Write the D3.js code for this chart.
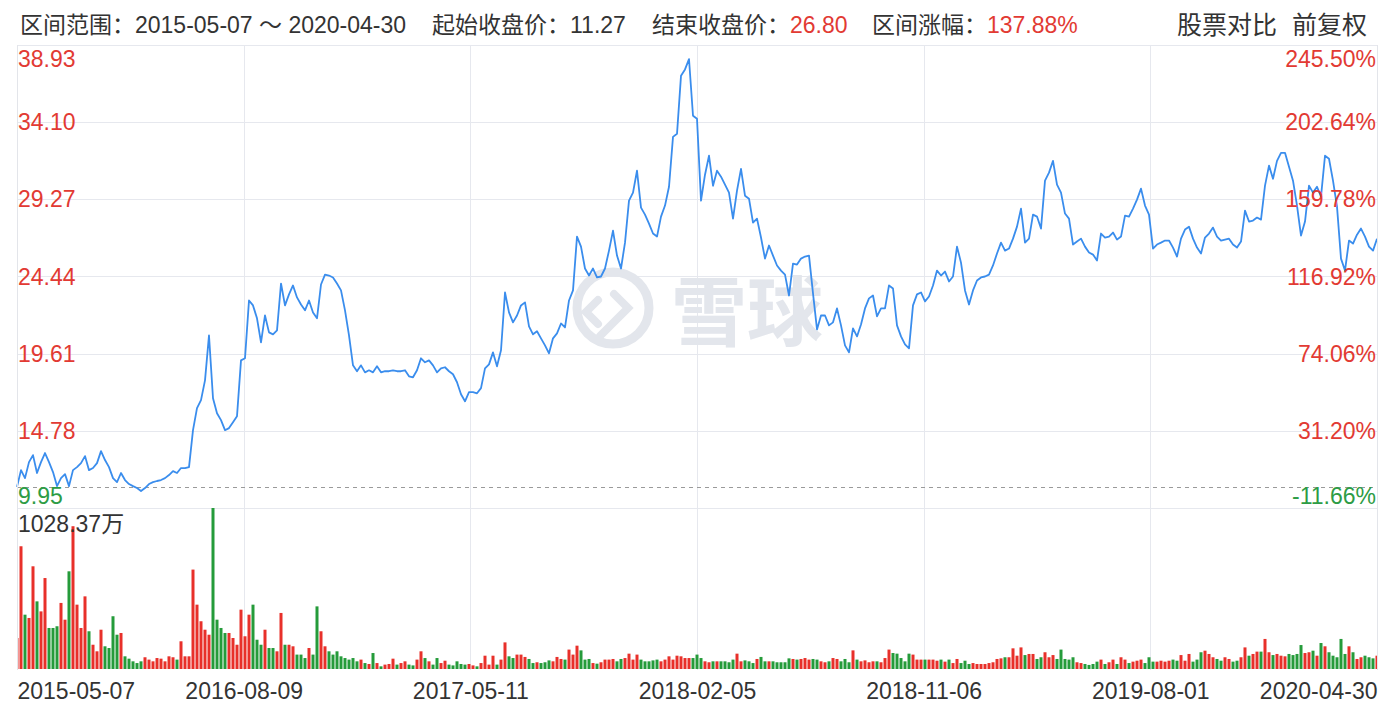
<!DOCTYPE html>
<html><head><meta charset="utf-8">
<script src="https://cdn.jsdelivr.net/npm/d3@7"></script>
<style>
html,body{margin:0;padding:0;background:#fff;}
svg{display:block;font-family:"Liberation Sans","Noto Sans CJK SC",sans-serif;}
</style></head><body>
<svg id="chart" width="1399" height="710"></svg>
<script>
// ---------- data ----------
const dateLabels = ["2015-05-07","2016-08-09","2017-05-11","2018-02-05","2018-11-06","2019-08-01","2020-04-30"];
const priceTicks = [9.95, 14.78, 19.61, 24.44, 29.27, 34.10, 38.93];
const pctTicks = ["-11.66%","31.20%","74.06%","116.92%","159.78%","202.64%","245.50%"];
const startClose = 11.27;
const headerRange = "区间范围：2015-05-07 ～ 2020-04-30";
const headerStart = ["起始收盘价：", "11.27"];
const headerEnd = ["结束收盘价：", "26.80"];
const headerChange = ["区间涨幅：", "137.88%"];
const headerRight = ["股票对比", "前复权"];
const maxVolume = 1028.37;
const maxVolumeLabel = "1028.37万";

const closePrices = [
11.27,12.32,11.82,12.82,13.26,12.14,12.82,13.39,12.82,12.20,
11.32,11.82,12.07,11.32,12.32,12.51,12.76,13.20,12.32,12.45,
12.76,13.51,12.95,12.51,11.82,11.57,12.14,11.70,11.45,11.32,
11.20,11.01,11.20,11.45,11.57,11.64,11.70,11.82,12.01,12.26,
12.14,12.45,12.45,12.51,14.82,16.20,16.70,17.94,20.75,16.82,
15.88,15.45,14.82,14.95,15.32,15.70,19.19,19.32,22.94,22.63,
21.82,20.32,22.00,20.94,20.82,21.07,24.00,22.63,23.32,23.88,
23.13,22.69,22.32,22.94,22.19,21.82,23.94,24.56,24.50,24.38,
24.00,23.57,22.32,20.75,18.88,18.51,18.88,18.44,18.57,18.44,
18.82,18.44,18.51,18.51,18.57,18.51,18.51,18.57,18.19,18.13,
18.57,19.32,19.07,19.19,18.88,18.44,18.69,18.76,18.51,18.32,
17.82,17.07,16.63,17.20,17.20,17.13,17.45,18.69,18.94,19.69,
18.82,19.82,23.44,22.19,21.57,22.00,22.63,22.82,21.32,20.82,
21.01,20.57,20.13,19.63,20.57,20.88,21.50,21.25,22.94,23.57,
26.94,26.31,24.94,24.50,24.94,24.38,24.44,24.94,26.06,27.31,
25.75,24.94,26.56,29.19,29.69,31.06,28.75,28.31,27.75,27.13,
26.94,28.19,28.88,30.06,33.18,33.37,37.00,37.40,38.05,34.50,
34.31,29.19,30.81,32.00,30.12,31.06,30.69,30.19,29.69,28.06,
29.81,31.18,29.50,29.31,27.81,28.06,26.88,25.56,26.38,25.75,
25.13,24.81,24.56,23.25,25.25,25.19,25.56,25.69,25.75,23.38,
21.13,22.00,22.00,21.38,21.57,22.44,21.38,20.13,19.69,21.19,
20.69,21.44,22.44,23.07,23.25,21.94,22.44,22.44,23.88,23.69,
21.38,20.69,20.19,19.94,22.63,23.32,23.44,22.88,23.19,23.88,
24.81,24.50,24.75,24.13,24.44,26.31,25.31,23.57,22.69,23.57,
24.19,24.38,24.44,24.56,25.13,25.88,26.56,26.06,26.19,26.81,
27.56,28.69,26.56,26.81,28.31,28.19,27.44,30.44,30.94,31.68,
30.19,29.69,28.38,28.06,26.44,26.63,26.81,26.31,25.94,25.81,
25.44,27.13,26.88,26.94,27.19,26.75,26.94,28.25,28.19,28.69,
29.25,29.94,28.88,28.31,26.19,26.44,26.56,26.69,26.69,26.25,
25.69,26.81,27.38,27.56,26.81,26.25,25.88,26.88,27.13,27.50,
26.94,26.69,26.75,26.81,26.44,26.25,26.63,28.56,27.88,27.94,
28.13,28.00,30.13,31.38,30.56,31.68,32.18,32.18,31.31,30.44,
28.88,27.00,27.88,30.13,29.69,30.06,29.44,32.00,31.81,30.44,
28.81,25.56,24.81,26.69,26.50,27.06,27.44,26.94,26.31,26.06,26.80
];

const volumes = [
198,784,347,326,656,432,368,581,262,262,
273,422,315,624,912,411,262,464,241,155,
113,251,145,134,337,219,230,81,66,49,
38,49,75,60,49,70,66,49,81,75,
60,177,81,81,635,411,305,251,219,1028.37,
315,262,230,230,198,155,379,209,347,411,
187,155,251,134,134,113,358,155,155,145,
92,92,70,134,92,400,241,145,113,92,
113,81,70,60,70,49,60,38,32,102,
38,17,28,32,66,28,38,49,28,23,
60,113,70,49,28,70,38,53,28,23,
49,32,28,32,23,17,38,85,28,85,
28,60,170,81,70,92,92,77,64,38,
43,38,43,55,49,77,64,60,124,92,
149,119,60,64,38,34,43,60,60,64,
49,64,70,98,60,92,60,49,49,55,
60,49,60,81,60,85,81,70,70,70,
92,70,49,43,49,49,49,49,43,60,
98,49,55,49,38,64,77,49,49,49,
43,43,43,68,64,60,64,70,60,64,
60,49,43,49,70,64,49,64,43,119,
60,49,55,43,49,49,43,70,124,102,
98,70,49,98,92,60,60,60,60,60,
53,60,47,60,38,64,38,53,32,38,
32,32,32,38,43,64,68,75,75,132,
85,138,89,96,96,64,75,107,75,89,
64,124,64,60,75,43,38,32,26,32,
47,60,32,43,60,32,75,60,38,47,
53,60,38,75,47,47,53,47,53,60,
53,89,53,96,47,60,107,117,96,75,
64,53,75,64,47,53,75,138,85,96,
111,111,192,107,89,96,85,81,96,89,
96,153,102,107,117,85,166,145,107,85,
75,192,96,145,107,64,75,85,75,68,85
];

// ---------- layout ----------
const left = 17, right = 1377, pTop = 45, pBottom = 508, vTop = 508, vBottom = 669;
const RED = "#e23a33", GREEN = "#2d9c45", TEXT = "#333";
const svg = d3.select("#chart");
const N = closePrices.length;

const x = d3.scaleLinear().domain([0, N - 1]).range([left, right]);
const y = d3.scaleLinear().domain([priceTicks[0], priceTicks[priceTicks.length - 1]]).range([pBottom, pTop]);
const yv = d3.scaleLinear().domain([0, maxVolume]).range([vBottom, vTop]);
const tickIdx = dateLabels.map((d, i) => i * (N - 1) / (dateLabels.length - 1));

// header
const hdr = svg.append("g").attr("font-size", 23).attr("fill", TEXT);
hdr.append("text").attr("x", 20).attr("y", 33).text(headerRange);
function pair(xp, arr, colorVal) {
  const t = hdr.append("text").attr("x", xp).attr("y", 33);
  t.append("tspan").text(arr[0]);
  t.append("tspan").attr("fill", colorVal).text(arr[1]);
}
pair(432, headerStart, TEXT);
pair(652, headerEnd, RED);
pair(872, headerChange, RED);
hdr.append("text").attr("x", 1177).attr("y", 34).attr("font-size", 25).text(headerRight[0]);
hdr.append("text").attr("x", 1367).attr("y", 34).attr("font-size", 25).attr("text-anchor", "end").text(headerRight[1]);

// grid
const grid = svg.append("g").attr("stroke", "#e6e8ee").attr("stroke-width", 1).attr("shape-rendering", "crispEdges");
grid.selectAll("line.h").data(priceTicks).join("line")
  .attr("x1", left).attr("x2", right)
  .attr("y1", d => Math.round(y(d)) + 0.5).attr("y2", d => Math.round(y(d)) + 0.5);
grid.selectAll("line.v").data(tickIdx).join("line")
  .attr("x1", d => Math.round(x(d)) + 0.5).attr("x2", d => Math.round(x(d)) + 0.5)
  .attr("y1", pTop).attr("y2", vBottom + 1);

// watermark
const wm = svg.append("g");
wm.append("circle").attr("cx", 613).attr("cy", 308).attr("r", 36)
  .attr("fill", "none").attr("stroke", "#e3e6ec").attr("stroke-width", 9);
wm.append("path").attr("d", "M598,300 L586,312 L598,324 M614,294 L628,308 L614,322 L600,336")
  .attr("fill", "none").attr("stroke", "#e3e6ec").attr("stroke-width", 8).attr("stroke-linecap", "round");
wm.append("text").attr("x", 671).attr("y", 340).attr("font-size", 76).attr("font-weight", 700)
  .attr("font-family", "Noto Sans CJK SC").attr("fill", "#e3e6ec").text("雪球");

// baseline (start close)
svg.append("line").attr("x1", left).attr("x2", right)
  .attr("y1", Math.round(y(startClose)) + 0.5).attr("y2", Math.round(y(startClose)) + 0.5)
  .attr("stroke", "#9a9a9a").attr("stroke-dasharray", "4,4");

// volume bars
svg.append("clipPath").attr("id", "clipv").append("rect")
  .attr("x", left).attr("y", vTop).attr("width", right - left).attr("height", vBottom - vTop + 1);
svg.append("g").attr("clip-path", "url(#clipv)")
  .selectAll("rect").data(volumes).join("rect")
  .attr("x", (d, i) => x(i) - 1.5).attr("width", 3)
  .attr("y", d => yv(d)).attr("height", d => vBottom - yv(d))
  .attr("fill", (d, i) => (i === 0 || closePrices[i] >= closePrices[i - 1]) ? "#e8302a" : "#259b3a");

// price line
svg.append("path").datum(closePrices)
  .attr("d", d3.line().x((d, i) => x(i)).y(d => y(d)))
  .attr("fill", "none").attr("stroke", "#3a8ded").attr("stroke-width", 1.8)
  .attr("stroke-linejoin", "round");

// y labels
const last = priceTicks.length - 1;
function labelY(i) {
  if (i === last) return pTop + 22;
  if (i === 0) return pBottom - 4;
  return y(priceTicks[i]) + 8;
}
const lab = svg.append("g").attr("font-size", 23);
lab.selectAll("text.l").data(priceTicks).join("text")
  .attr("x", left + 1).attr("y", (d, i) => labelY(i))
  .attr("fill", d => d < startClose ? GREEN : RED)
  .text(d => d.toFixed(2));
lab.selectAll("text.r").data(pctTicks).join("text")
  .attr("x", right - 1).attr("y", (d, i) => labelY(i)).attr("text-anchor", "end")
  .attr("fill", (d, i) => priceTicks[i] < startClose ? GREEN : RED)
  .text(d => d);

svg.append("text").attr("x", left + 1).attr("y", 532).attr("font-size", 23).attr("fill", TEXT).text(maxVolumeLabel);

// date axis
const xAxis = d3.axisBottom(x).tickValues(tickIdx).tickSize(0).tickPadding(0)
  .tickFormat((d, i) => dateLabels[i]);
const ax = svg.append("g").attr("transform", `translate(0,${vBottom})`).call(xAxis);
ax.select(".domain").remove();
ax.selectAll("text").attr("font-size", 23).attr("fill", TEXT)
  .attr("font-family", "Liberation Sans, sans-serif")
  .attr("dy", 0).attr("y", 30)
  .attr("text-anchor", (d, i) => i === 0 ? "start" : (i === dateLabels.length - 1 ? "end" : "middle"));

// frame
const fr = svg.append("g").attr("stroke", "#e3e5ea").attr("fill", "none").attr("shape-rendering", "crispEdges");
fr.append("line").attr("x1", left + 0.5).attr("x2", left + 0.5).attr("y1", pTop).attr("y2", vBottom + 1);
fr.append("line").attr("x1", right + 0.5).attr("x2", right + 0.5).attr("y1", pTop).attr("y2", vBottom + 1);
</script>
</body></html>
